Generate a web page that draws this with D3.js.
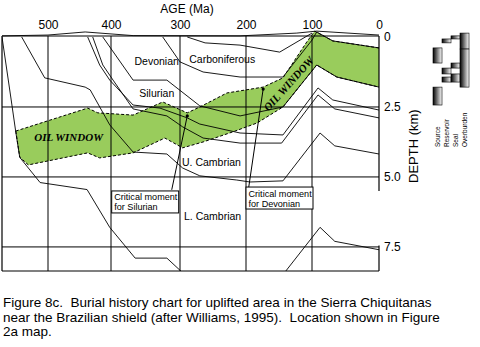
<!DOCTYPE html>
<html><head><meta charset="utf-8">
<script src="https://cdn.jsdelivr.net/npm/d3@7"></script>
<style>body{margin:0;background:#fff}svg{display:block}text{font-family:"Liberation Sans",Arial,sans-serif;fill:#000}</style>
</head><body><svg id="c" width="480" height="347"></svg>
<script>
// ---- data (age in Ma, depth in km) ----
const ageTicks=[500,400,300,200,100,0];
const depthTicks=[0,2.5,5.0,7.5];
const surface=[[570,-0.04],[500,-0.07],[441,-0.18],[368,-0.05],[209,-0.04],[123,-0.14],[93,-0.21],[0,-0.07]];
const baseLCambrian=[[570,0],[556,2.25],[549,3.4],[543,4.3],[512,5.2],[438,5.45],[402,6.8],[365,7.9],[319,7.9],[297,8.4],[270,8.9],[179,8.9],[141,8.4],[88,6.8],[66,7.3],[0,7.6]];
const baseUCambrian=[[540,0],[505,1.46],[441,1.79],[433,1.89],[402,3.14],[368,4.11],[319,4.18],[296,4.68],[270,4.96],[214,5.11],[194,5.18],[144,5.14],[88,3.43],[66,3.89],[0,4.18]];
const baseSilurianLower=[[429,0],[413,1.0],[397,1.54],[368,2.57],[319,2.82],[296,3.21],[265,3.61],[209,3.79],[146,3.79],[91,2.07],[66,2.57],[0,2.89]];
const baseSilurian=[[437,0],[418,1.0],[402,1.54],[368,2.43],[329,2.54],[289,2.89],[270,3.11],[209,3.43],[144,3.5],[91,1.82],[69,2.25],[0,2.61]];
const baseDevonian=[[413,0],[368,1.54],[319,1.54],[270,2.46],[209,2.82],[144,2.5],[93,1.0],[63,1.43],[0,1.79]];
const baseCarboniferous=[[325,0],[300,0.89],[265,1.25],[209,1.43],[144,1.43],[100,0.11],[93,-0.18],[69,0.14],[0,0.39]];
const topCarboniferous=[[289,0],[262,0.21],[209,0.29],[149,0.54],[100,-0.14]];
const oilTop=[[549,3.36],[437,2.54],[421,2.71],[368,2.79],[325,2.32],[289,2.71],[270,2.5],[229,2.0],[174,1.79],[144,1.46],[108,0.18],[96,-0.21],[69,0.14],[0,0.39]];
const oilBottom=[[549,3.36],[543,4.29],[530,4.57],[437,4.14],[418,4.32],[368,4.14],[322,3.61],[296,3.96],[265,3.75],[220,3.39],[183,3.07],[144,2.5],[93,1.0],[63,1.43],[0,1.79]];
const unitLabels=[["Carboniferous",286,0.93],["Devonian",366,1.0],["Silurian",359,2.14],["U. Cambrian",297,4.6],["L. Cambrian",294,6.54]];
const critical=[["Critical moment","for Silurian",[289,2.82],[312,5.46],[399,5.5]],["Critical moment","for Devonian",[174,1.86],[196,5.39],[200,5.36]]];
const elements=["Source","Reservoir","Seal","Overburden"];
const elementRanges=[["Source",0.39,0.93],["Source",1.79,2.43],["Reservoir",0.07,0.21],["Reservoir",1.11,1.32],["Reservoir",1.43,1.61],["Seal",-0.04,0.07],["Seal",0.93,1.11],["Seal",1.32,1.61],["Overburden",-0.14,0.43],["Overburden",0.43,1.79]];

// ---- scales ----
const svg=d3.select("#c");
const x=d3.scaleLinear().domain([570,500,400,300,200,100,0]).range([2,48,111,180,246,312,379]);
const y=d3.scaleLinear().domain([0,8.36]).range([37,271]);
const line=d3.line().x(d=>x(d[0])).y(d=>y(d[1]));
const X0=x(570),X1=x(0),Y0=y(0)-1,Y1=y(8.36);

const defs=svg.append("defs");
defs.append("clipPath").attr("id","clip").append("rect").attr("x",X0).attr("y",Y0-8).attr("width",X1-X0).attr("height",Y1-Y0+8);
const grad=defs.append("linearGradient").attr("id","g").attr("x1","0").attr("x2","1");
grad.append("stop").attr("offset","0").attr("stop-color","#000");
grad.append("stop").attr("offset","1").attr("stop-color","#fff");

// oil window fill
const poly=oilTop.concat(oilBottom.slice().reverse());
svg.append("path").attr("d",line(poly)+"Z").attr("fill","#99cc5c").attr("clip-path","url(#clip)");

// grid
const g=svg.append("g").attr("stroke","#000").attr("stroke-width",1);
ageTicks.filter(a=>a>0).forEach(a=>g.append("line").attr("x1",x(a)).attr("x2",x(a)).attr("y1",Y0).attr("y2",Y1));
depthTicks.filter(d=>d>0).forEach(d=>g.append("line").attr("x1",X0).attr("x2",X1).attr("y1",y(d)).attr("y2",y(d)));
const fr=svg.append("g").attr("stroke","#000").attr("stroke-width",1.2);
fr.append("line").attr("x1",X0).attr("x2",X1).attr("y1",Y0).attr("y2",Y0);
fr.append("line").attr("x1",X0).attr("x2",X1).attr("y1",Y1).attr("y2",Y1);
fr.append("line").attr("x1",X0).attr("x2",X0).attr("y1",Y0).attr("y2",Y1);
fr.append("line").attr("x1",X1).attr("x2",X1).attr("y1",Y0).attr("y2",y(5.5));
fr.append("line").attr("x1",X1).attr("x2",X1).attr("y1",y(7.45)).attr("y2",Y1);

// burial curves
const cg=svg.append("g").attr("clip-path","url(#clip)").attr("fill","none").attr("stroke","#000").attr("stroke-width",0.9);
[surface,baseLCambrian,baseUCambrian,baseSilurianLower,baseSilurian,baseDevonian,baseCarboniferous,topCarboniferous].forEach(c=>cg.append("path").attr("d",line(c)));
[oilTop,oilBottom].forEach(c=>cg.append("path").attr("d",line(c)).attr("stroke-dasharray","3,2").attr("stroke-width",1));

// axes
const ax=svg.append("g").attr("transform",`translate(0,${Y0-4})`).call(d3.axisTop(x).tickValues(ageTicks).tickSize(0).tickPadding(3));
ax.select(".domain").remove();
ax.selectAll("text").style("font-size","12px").attr("fill","#000");
const ay=svg.append("g").attr("transform",`translate(${X1},0)`).call(d3.axisRight(y).tickValues(depthTicks).tickSize(0).tickPadding(5).tickFormat(d=>d===0?"0":d3.format(".1f")(d)));
ay.select(".domain").remove();
ay.selectAll("text").style("font-size","12px").attr("fill","#000");
svg.append("text").attr("x",187).attr("y",13).attr("text-anchor","middle").style("font-size","12px").text("AGE (Ma)");
svg.append("text").attr("transform",`translate(418,${y(3.9)}) rotate(-90)`).attr("text-anchor","middle").style("font-size","13px").text("DEPTH (km)");

// unit labels
unitLabels.forEach(([t,a,d])=>svg.append("text").attr("x",x(a)).attr("y",y(d)).style("font-size","10.5px").text(t));

// oil window labels
const oilFont=s=>s.style("font-family","'Liberation Serif',serif").style("font-style","italic").style("font-weight","bold").style("font-size","11px").attr("fill","#1d2a14");
svg.append("text").attr("x",x(521)).attr("y",y(3.72)).call(oilFont).text("OIL WINDOW");
svg.append("text").attr("transform",`translate(${x(131)},${y(1.76)}) rotate(-48)`).attr("text-anchor","middle").call(oilFont).text("OIL WINDOW");

// critical moments
critical.forEach(([t1,t2,p,e,b])=>{
  svg.append("line").attr("x1",x(p[0])).attr("y1",y(p[1])).attr("x2",x(e[0])).attr("y2",y(e[1])).attr("stroke","#000").attr("stroke-width",1);
  svg.append("circle").attr("cx",x(p[0])).attr("cy",y(p[1])).attr("r",1.6).attr("fill","#000");
  const bx=x(b[0]),by=y(b[1]);
  svg.append("rect").attr("x",bx).attr("y",by).attr("width",67).attr("height",22).attr("fill","#fff").attr("stroke","#000").attr("stroke-width",1);
  svg.append("text").attr("x",bx+2.5).attr("y",by+9.5).style("font-size","9.1px").text(t1);
  svg.append("text").attr("x",bx+2.5).attr("y",by+19.5).style("font-size","9.1px").text(t2);
});

// petroleum system elements
const band=d3.scaleBand().domain(elements).range([433,469]);
svg.append("g").selectAll("rect").data(elementRanges).join("rect")
  .attr("x",d=>band(d[0])).attr("width",band.bandwidth()).attr("y",d=>y(d[1])).attr("height",d=>y(d[2])-y(d[1]))
  .attr("fill","url(#g)").attr("stroke","#000").attr("stroke-width",0.6);
elements.forEach(el=>svg.append("text").attr("transform",`translate(${band(el)+band.bandwidth()/2+2.5},147) rotate(-90)`).style("font-size","6.5px").text(el));

// caption
const cap=["Figure 8c.  Burial history chart for uplifted area in the Sierra Chiquitanas","near the Brazilian shield (after Williams, 1995).  Location shown in Figure","2a map."];
cap.forEach((t,i)=>svg.append("text").attr("x",3).attr("y",307+i*14.6).style("font-size","13.5px").style("white-space","pre").text(t));
</script></body></html>
